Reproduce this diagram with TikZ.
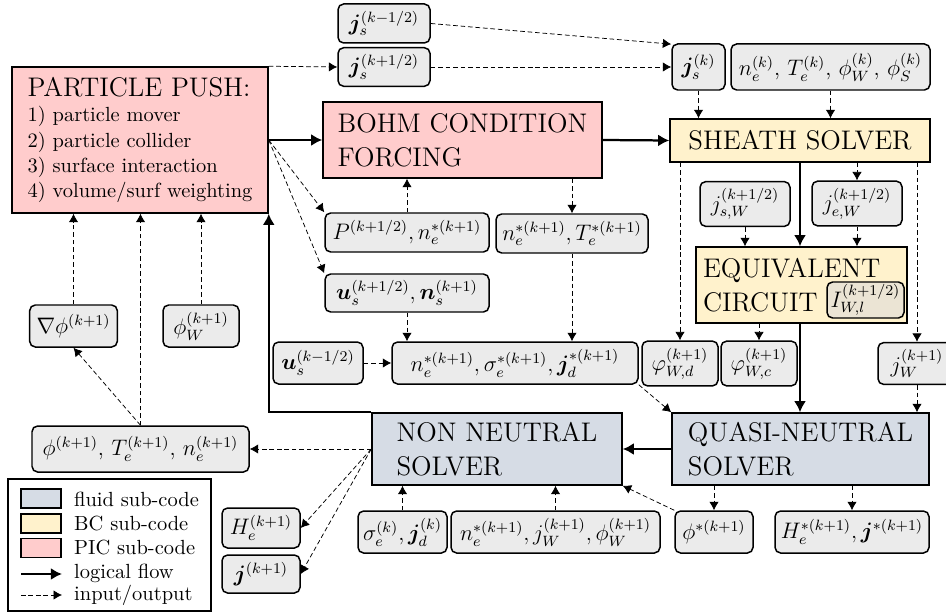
\documentclass[tikz,border=0pt,11pt]{standalone}
\usepackage{bm}
\usetikzlibrary{arrows.meta}

\definecolor{piccol}{HTML}{FFCCCC}
\definecolor{bccol}{HTML}{FFF2CC}
\definecolor{fluidcol}{HTML}{D6DCE5}
\definecolor{varcol}{HTML}{EBEBEB}
\definecolor{innercol}{HTML}{EBE4D4}
\newcommand{\pxl}{0.535pt}

\begin{document}
\begin{tikzpicture}[x=0.535pt, y=-0.535pt]
	\tikzstyle{Code} = [rectangle, draw=black, thick, align=left]
	\tikzstyle{Var} = [rectangle, rounded corners=3pt, draw=black, thick, fill=varcol, font=\large]
	\tikzstyle{flow} = [very thick,-{Latex[length=6pt,width=6.5pt]}]
	\tikzstyle{io} = [dash pattern=on 2.5pt off 1.5pt,-{Latex[length=4.5pt,width=5pt]}]
	
	\useasboundingbox (0,0) rectangle (946,613);
	
	% sub-code blocks
	\node (push) [Code, fill=piccol, minimum width=256*\pxl, minimum height=146*\pxl] at (140,140) {{\Large PARTICLE PUSH:}\\1) particle mover\\2) particle collider\\3) surface interaction\\4) volume/surf weighting};
	\node (bohm) [Code, fill=piccol, font=\Large, minimum width=279*\pxl, minimum height=76*\pxl] at (462.5,140) {BOHM CONDITION\\FORCING};
	\node (sheath) [Code, fill=bccol, font=\Large, minimum width=260*\pxl, minimum height=43*\pxl] at (800,140.5) {SHEATH SOLVER};
	\node (equiv) [Code, fill=bccol, font=\Large, text width=197*\pxl, inner xsep=7*\pxl, minimum height=76*\pxl] at (801.5,285) {EQUIVALENT\\CIRCUIT};
	\node (Iwl) [Var, fill=innercol, minimum width=77*\pxl, minimum height=36*\pxl, inner sep=1pt] at (865.5,300) {$I_{W,l}^{(k+1/2)}$};
	\node (quasi) [Code, fill=fluidcol, font=\Large, minimum width=257*\pxl, minimum height=72*\pxl] at (800.5,449) {QUASI-NEUTRAL\\SOLVER};
	\node (non) [Code, fill=fluidcol, font=\Large, minimum width=250*\pxl, minimum height=72*\pxl] at (497,449) {NON NEUTRAL\\SOLVER};
	
	% inputs and outputs
	\node (jsm) [Var, minimum width=92*\pxl, minimum height=39*\pxl] at (384,23.5) {$\bm{j}_s^{(k-1/2)}$};
	\node (jsp) [Var, minimum width=92*\pxl, minimum height=38*\pxl] at (384,67) {$\bm{j}_s^{(k+1/2)}$};
	\node (jsk) [Var, minimum width=53*\pxl, minimum height=46*\pxl] at (698.5,67) {$\bm{j}_s^{(k)}$};
	\node (nTk) [Var, minimum width=199*\pxl, minimum height=46*\pxl, inner sep=1pt] at (830.5,67) {$n_e^{(k)}$, $T_e^{(k)}$, $\phi_W^{(k)}$, $\phi_S^{(k)}$};
	\node (jsW) [Var, minimum width=90*\pxl, minimum height=42*\pxl] at (745,204) {$j_{s,W}^{(k+1/2)}$};
	\node (jeW) [Var, minimum width=90*\pxl, minimum height=43*\pxl] at (857,203.5) {$j_{e,W}^{(k+1/2)}$};
	\node (phiWd) [Var, minimum width=76*\pxl, minimum height=41*\pxl] at (680,363.5) {$\varphi_{W,d}^{(k+1)}$};
	\node (phiWc) [Var, minimum width=76*\pxl, minimum height=41*\pxl] at (759,363.5) {$\varphi_{W,c}^{(k+1)}$};
	\node (jW) [Var, minimum width=78*\pxl, minimum height=41*\pxl] at (917,363.5) {$j_W^{(k+1)}$};
	\node (Pn) [Var, minimum width=164*\pxl, minimum height=39*\pxl, inner sep=1pt] at (407,232.5) {$P^{(k+1/2)},n_e^{*(k+1)}$};
	\node (nT) [Var, minimum width=152*\pxl, minimum height=39*\pxl, inner sep=1pt] at (572,233.5) {$n_e^{*(k+1)},T_e^{*(k+1)}$};
	\node (usp) [Var, minimum width=164*\pxl, minimum height=38*\pxl, inner sep=1pt] at (407,293) {$\bm{u}_s^{(k+1/2)},\bm{n}_s^{(k+1)}$};
	\node (usm) [Var, minimum width=90*\pxl, minimum height=42*\pxl] at (318,363) {$\bm{u}_s^{(k-1/2)}$};
	\node (nsj) [Var, minimum width=246*\pxl, minimum height=42*\pxl, inner sep=1pt] at (515,363) {$n_e^{*(k+1)},\sigma_e^{*(k+1)},\bm{j}_d^{*(k+1)}$};
	\node (grad) [Var, minimum width=87*\pxl, minimum height=42*\pxl] at (73.5,326) {$\nabla\phi^{(k+1)}$};
	\node (phiW) [Var, minimum width=76*\pxl, minimum height=42*\pxl] at (201,326) {$\phi_W^{(k+1)}$};
	\node (phiTn) [Var, minimum width=217*\pxl, minimum height=46*\pxl, inner sep=1pt] at (140.5,449) {$\phi^{(k+1)}$, $T_e^{(k+1)}$, $n_e^{(k+1)}$};
	\node (He) [Var, minimum width=78*\pxl, minimum height=40*\pxl] at (261,528) {$H_e^{(k+1)}$};
	\node (jk) [Var, minimum width=78*\pxl, minimum height=38*\pxl] at (261,574) {$\bm{j}^{(k+1)}$};
	\node (sj) [Var, minimum width=89*\pxl, minimum height=42*\pxl, inner sep=1pt] at (402.5,532) {$\sigma_e^{(k)},\bm{j}_d^{(k)}$};
	\node (njp) [Var, minimum width=209*\pxl, minimum height=42*\pxl, inner sep=1pt] at (555.5,532) {$n_e^{*(k+1)},j_W^{(k+1)},\phi_W^{(k+1)}$};
	\node (phis) [Var, minimum width=78*\pxl, minimum height=42*\pxl] at (714,532) {$\phi^{*(k+1)}$};
	\node (Hj) [Var, minimum width=154*\pxl, minimum height=42*\pxl, inner sep=1pt] at (852,532) {$H_e^{*(k+1)},\bm{j}^{*(k+1)}$};
	
	% logical flow
	\draw[flow] (push.east) -- (bohm.west);
	\draw[flow] (bohm.east) -- (sheath.west);
	\draw[flow] (sheath.south) -- (sheath.south |- equiv.north);
	\draw[flow] (sheath.south |- equiv.south) -- (sheath.south |- quasi.north);
	\draw[flow] (quasi.west) -- (non.east);
	\draw[flow] (non.north west) -| (push.south east);
	
	% input/output
	\draw[io] (push.north east) -- (jsp.west);
	\draw[io] (jsm.east) -- (jsk.140);
	\draw[io] (jsp.east) -- (jsk.west);
	\draw[io] (jsk.south) -- (jsk.south |- sheath.north);
	\draw[io] (nTk.south) -- (nTk.south |- sheath.north);
	\draw[io] (sheath.south -| phiWd.north) -- (phiWd.north);
	\draw[io] (sheath.south -| jeW.north) -- (jeW.north);
	\draw[io] (sheath.south -| jW.north) -- (jW.north);
	\draw[io] (jsW.south) -- (jsW.south |- equiv.north);
	\draw[io] (jeW.south) -- (jeW.south |- equiv.north);
	\draw[io] (equiv.south -| phiWc.north) -- (phiWc.north);
	\draw[io] (jW.south) -- (jW.south |- quasi.north);
	\draw[io] (push.east) -- (Pn.north west);
	\draw[io] (push.east) -- (usp.north west);
	\draw[io] (Pn.north) -- (Pn.north |- bohm.south);
	\draw[io] (bohm.south -| nT.north) -- (nT.north);
	\draw[io] (nT.south) -- (nT.south |- nsj.north);
	\draw[io] (usp.south) -- (usp.south |- nsj.north);
	\draw[io] (usm.east) -- (nsj.west);
	\draw[io] (nsj.south east) -- (quasi.north west);
	\draw[io] (quasi.south -| phis.north) -- (phis.north);
	\draw[io] (quasi.south -| Hj.north) -- (Hj.north);
	\draw[io] (phis.north west) -- (non.south east);
	\draw[io] (sj.north) -- (sj.north |- non.south);
	\draw[io] (njp.north) -- (njp.north |- non.south);
	\draw[io] (non.west) -- (phiTn.east);
	\draw[io] (non.west) -- (He.east);
	\draw[io] (non.west) -- (jk.east);
	\draw[io] (phiTn.north) -- (phiTn.north |- push.south);
	\draw[io] (phiTn.north) -- (grad.south);
	\draw[io] (grad.north) -- (grad.north |- push.south);
	\draw[io] (phiW.north) -- (phiW.north |- push.south);
	
	% legend
	\node (legend) [rectangle, draw=black, thick, minimum width=203*\pxl, minimum height=132*\pxl] at (109.5,545) {};
	\node (swF) [rectangle, draw=black, thick, fill=fluidcol, minimum width=40*\pxl, minimum height=19*\pxl] at (41,498.5) {};
	\node (swB) [rectangle, draw=black, thick, fill=bccol, minimum width=40*\pxl, minimum height=19*\pxl] at (41,523.5) {};
	\node (swP) [rectangle, draw=black, thick, fill=piccol, minimum width=40*\pxl, minimum height=19*\pxl] at (41,548) {};
	\node (txF) [anchor=base west] at (67,506) {fluid sub-code};
	\node (txB) [anchor=base west] at (67,530) {BC sub-code};
	\node (txP) [anchor=base west] at (67,554) {PIC sub-code};
	\node (txL) [anchor=base west] at (67,578) {logical flow};
	\node (txI) [anchor=base west] at (67,600) {input/output};
	\coordinate (lfA) at (21,574);
	\coordinate (lfB) at (62,574);
	\coordinate (ioA) at (21,595);
	\coordinate (ioB) at (62,595);
	\draw[flow] (lfA) -- (lfB);
	\draw[io] (ioA) -- (ioB);
\end{tikzpicture}
\end{document}
